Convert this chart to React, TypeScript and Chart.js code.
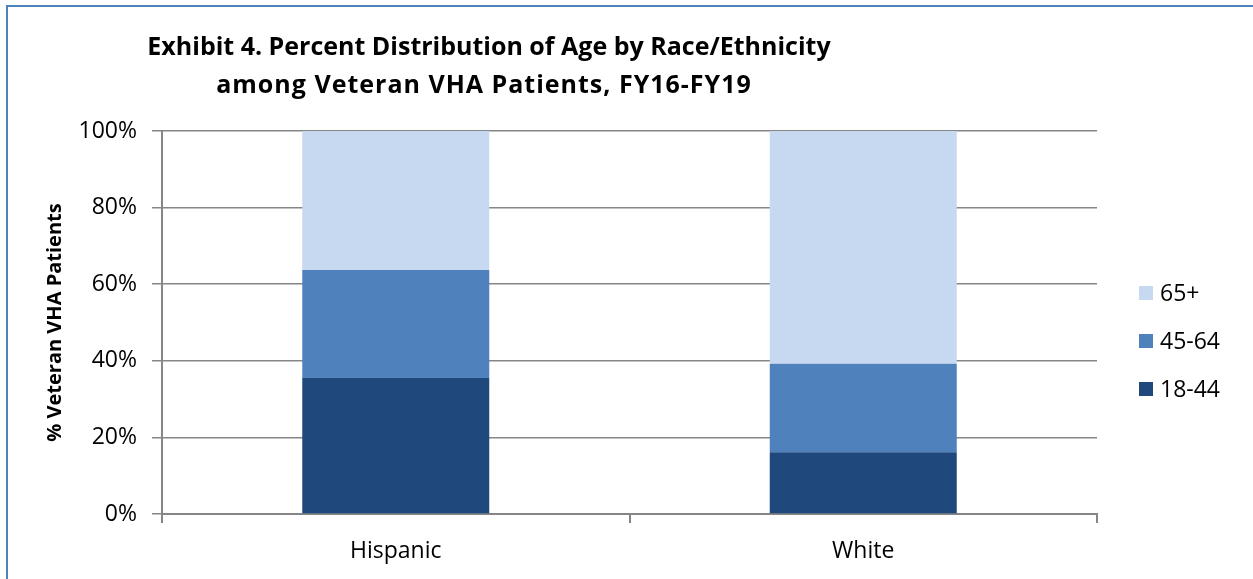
import React, { useEffect, useRef } from "react";
import { Chart, registerables } from "chart.js";

Chart.register(...registerables);

const categories = ["Hispanic", "White"];
const ageGroups = ["18-44", "45-64", "65+"];
const share18to44 = [35.5, 16.1];
const share45to64 = [28.2, 23.1];
const share65plus = [36.3, 60.8];
const yTicks = [0, 20, 40, 60, 80, 100];
const titleLines = [
  "Exhibit 4. Percent Distribution of Age by Race/Ethnicity",
  "among Veteran VHA Patients, FY16-FY19",
];
const yAxisTitle = "% Veteran VHA Patients";
const colors = ["#1F497D", "#4F81BD", "#C6D9F1"];

const FONT = "'Open Sans', 'Liberation Sans', sans-serif";

const titlePlugin = {
  id: "customTitle",
  afterDraw(chart: any) {
    const ctx = chart.ctx;
    ctx.save();
    ctx.fillStyle = "#000";
    ctx.font = `bold 25px ${FONT}`;
    ctx.textAlign = "center";
    ctx.textBaseline = "middle";
    ctx.fillText(titleLines[0], 489, 48);
    ctx.letterSpacing = "1px";
    ctx.fillText(titleLines[1], 484, 86);
    ctx.restore();
  },
};

const legendPlugin = {
  id: "customLegend",
  afterDraw(chart: any) {
    const ctx = chart.ctx;
    const ds = chart.data.datasets;
    ctx.save();
    ctx.font = `23px ${FONT}`;
    ctx.textAlign = "left";
    ctx.textBaseline = "middle";
    const rowsY = [293, 341, 389];
    const order = ds.map((_: any, i: number) => i).reverse();
    order.forEach((di: number, row: number) => {
      const y = rowsY[row];
      ctx.fillStyle = ds[di].backgroundColor;
      ctx.fillRect(1139, y - 7, 14, 14);
      ctx.fillStyle = "#000";
      ctx.fillText(ds[di].label, 1160, y + 1);
    });
    ctx.restore();
  },
};

export default function App() {
  const ref = useRef<HTMLCanvasElement | null>(null);

  useEffect(() => {
    if (!ref.current) return;
    const chart = new Chart(ref.current, {
      type: "bar",
      data: {
        labels: categories,
        datasets: [
          { label: ageGroups[0], data: share18to44, backgroundColor: colors[0] },
          { label: ageGroups[1], data: share45to64, backgroundColor: colors[1] },
          { label: ageGroups[2], data: share65plus, backgroundColor: colors[2] },
        ].map((d) => ({
          ...d,
          barPercentage: 0.4,
          categoryPercentage: 1,
          borderWidth: 0,
        })),
      },
      options: {
        responsive: false,
        animation: false,
        devicePixelRatio: 1,
        layout: { padding: { top: 131, right: 156, left: 0, bottom: 0 } },
        plugins: {
          legend: { display: false },
          title: { display: false },
          tooltip: { enabled: false },
        },
        scales: {
          x: {
            stacked: true,
            grid: {
              offset: true,
              drawOnChartArea: false,
              drawTicks: true,
              tickLength: 9,
              color: "#868686",
              lineWidth: 2,
            },
            border: { display: true, color: "#868686", width: 2 },
            ticks: {
              color: "#000",
              font: { family: FONT, size: 23 },
              padding: 15,
            },
            afterFit: (s: any) => {
              s.height = 65;
            },
          },
          y: {
            stacked: true,
            min: 0,
            max: 100,
            afterBuildTicks: (s: any) => {
              s.ticks = yTicks.map((v) => ({ value: v }));
            },
            grid: {
              color: "#868686",
              lineWidth: 1.5,
              tickLength: 10,
            },
            border: { display: true, color: "#868686", width: 2 },
            ticks: {
              color: "#000",
              font: { family: FONT, size: 23 },
              padding: 15,
              callback: (v: any) => `${v}%`,
            },
            title: {
              display: true,
              text: yAxisTitle,
              color: "#000",
              font: { family: FONT, size: 20, weight: "bold" },
              padding: { top: 43, bottom: 0 },
            },
            afterFit: (s: any) => {
              s.width = 162;
            },
          },
        },
      },
      plugins: [titlePlugin, legendPlugin],
    });
    return () => chart.destroy();
  }, []);

  return (
    <div style={{ position: "fixed", left: 0, top: 0, width: 1253, height: 579, background: "#fff", overflow: "hidden" }}>
      <div
        style={{
          position: "absolute",
          left: 6,
          top: 5,
          width: 1300,
          height: 640,
          borderTop: "2px solid #4F81BD",
          borderLeft: "2px solid #4F81BD",
        }}
      />
      <canvas ref={ref} width={1253} height={579} style={{ position: "absolute", left: 0, top: 0, display: "block" }} />
    </div>
  );
}
